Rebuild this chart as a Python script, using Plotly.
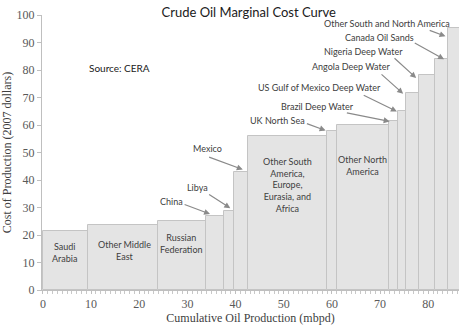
import plotly.graph_objects as go

# Producers (step widths in mbpd, cost in 2007 $)
regions = ["Saudi Arabia", "Other Middle East", "Russian Federation", "China", "Libya",
           "Mexico", "Other South America, Europe, Eurasia, and Africa", "UK North Sea",
           "Other North America", "Brazil Deep Water", "US Gulf of Mexico Deep Water",
           "Angola Deep Water", "Nigeria Deep Water", "Canada Oil Sands",
           "Other South and North America"]
widths = [9.3, 14.6, 10.0, 3.7, 2.1, 2.9, 16.4, 2.1, 10.7, 2.0, 1.5, 2.7, 3.4, 2.8, 2.4]
costs = [21.4, 23.6, 25.0, 27.0, 28.8, 42.9, 56.0, 58.0, 60.0, 61.3, 65.2, 71.8, 78.3, 84.0, 95.2]

# labels inside bars
inner_labels = ["Saudi<br>Arabia", "Other Middle<br>East", "Russian<br>Federation",
                "Other South<br>America,<br>Europe,<br>Eurasia, and<br>Africa",
                "Other North<br>America"]
inner_pos = [(4.5, 13.6), (16.9, 14.3), (28.7, 16.8), (50.8, 38.2), (66.3, 45.4)]

# callout labels: text position, arrow tail, arrow head
callouts = ["China", "Libya", "Mexico", "UK North Sea", "Brazil Deep Water",
            "US Gulf of Mexico Deep Water", "Angola Deep Water", "Nigeria Deep Water",
            "Canada Oil Sands", "Other South and North America"]
callout_text_pos = [(26.65, 32.1), (32.0, 37.25), (34.1, 51.4), (48.7, 61.5), (57.0, 66.7),
                    (57.5, 73.5), (64.0, 81.2), (66.6, 86.7), (69.9, 92.0), (71.4, 96.8)]
arrow_tail = [(29.1, 31.3), (34.2, 35.1), (34.2, 48.5), (54.5, 60.7), (62.8, 64.5),
              (66.3, 71.1), (70.0, 78.9), (72.7, 84.75), (76.9, 90.1), (80.0, 94.6)]
arrow_head = [(34.7, 27.6), (38.9, 29.75), (41.5, 43.8), (58.7, 58.0), (72.0, 61.3),
              (73.5, 64.9), (74.8, 71.4), (77.5, 77.1), (83.3, 83.9), (83.6, 92.25)]

starts = []
acc = 0.0
for w in widths:
    starts.append(acc)
    acc += w
centers = [s + w / 2 for s, w in zip(starts, widths)]

fig = go.Figure()
fig.add_trace(go.Bar(
    x=centers, y=costs, width=widths, base=0,
    marker=dict(color="#e4e4e4", line=dict(color="#c4c4c4", width=1)),
    hovertext=regions, showlegend=False,
))

ann = []
sans = "Lato, 'Open Sans', sans-serif"
for txt, (x, y) in zip(inner_labels, inner_pos):
    ann.append(dict(x=x, y=y, xref="x", yref="y", text=txt, showarrow=False,
                    font=dict(family=sans, size=9, color="#404040")))
for txt, (x, y) in zip(callouts, callout_text_pos):
    ann.append(dict(x=x, y=y, xref="x", yref="y", text=txt, showarrow=False,
                    font=dict(family=sans, size=9, color="#404040")))
for (tx, ty), (hx, hy) in zip(arrow_tail, arrow_head):
    ann.append(dict(x=hx, y=hy, ax=tx, ay=ty, xref="x", yref="y", axref="x", ayref="y",
                    text="", showarrow=True, arrowhead=2, arrowsize=1, arrowwidth=1.2,
                    arrowcolor="#8a8a8a"))
ann.append(dict(x=0.108, y=0.835, xref="paper", yref="paper", text="Source: CERA",
                showarrow=False, xanchor="left", font=dict(family=sans, size=10, color="#202020")))

serif = "'Liberation Serif', 'DejaVu Serif', serif"
fig.update_layout(
    width=465, height=328,
    margin=dict(l=40, r=6, t=15, b=33),
    paper_bgcolor="white", plot_bgcolor="white",
    title=dict(text="Crude Oil Marginal Cost Curve", x=0.535, xanchor="center",
               y=0.962, yanchor="middle",
               font=dict(family=sans, size=13, color="#202020")),
    annotations=ann,
    bargap=0,
    xaxis=dict(range=[-0.2, 86.4], tickmode="array", tickvals=[0, 10, 20, 30, 40, 50, 60, 70, 80],
               ticks="outside", ticklen=3, tickcolor="#bfbfbf",
               minor=dict(dtick=1, tick0=0, ticks="outside", ticklen=3, tickcolor="#c8c8c8"),
               showline=True, linecolor="#bfbfbf", linewidth=1, showgrid=False, zeroline=False,
               tickfont=dict(family=serif, size=12, color="#595959"),
               title=dict(text="Cumulative Oil Production (mbpd)", standoff=2,
                          font=dict(family=serif, size=12, color="#404040"))),
    yaxis=dict(range=[0, 100], dtick=10, ticks="outside", ticklen=4, tickcolor="#bfbfbf",
               showline=True, linecolor="#bfbfbf", linewidth=1, showgrid=False, zeroline=False,
               tickfont=dict(family=serif, size=12, color="#595959"),
               title=dict(text="Cost of Production (2007 dollars)", standoff=2,
                          font=dict(family=serif, size=12, color="#404040"))),
)

fig.write_html("out.html")
